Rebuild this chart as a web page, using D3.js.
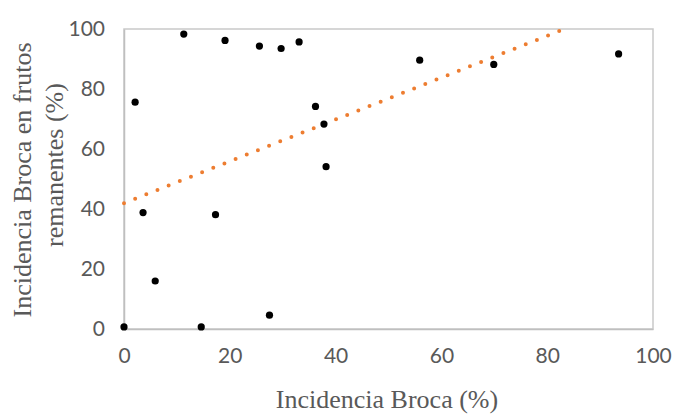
<!DOCTYPE html>
<html>
<head>
<meta charset="utf-8">
<script src="https://cdn.jsdelivr.net/npm/d3@7"></script>
<style>
  body { margin: 0; background: #fff; }
  .tick text { font-family: Lato, "Open Sans", sans-serif; font-size: 21px; fill: #595959; }
  .title { font-family: "Liberation Serif", "Times New Roman", serif; font-size: 26px; fill: #595959; }
</style>
</head>
<body>
<div id="chart"></div>
<script>
var width = 675;
var height = 417;

var margin = { top: 29, right: 22, bottom: 88, left: 124 };

// Incidencia Broca (%) vs incidencia en frutos remanentes (%)
var incidencia = [2.1, 11.3, 19.1, 25.6, 29.7, 33.1, 36.2, 37.8, 38.2, 55.9, 69.9, 93.5, 3.6, 17.3, 5.9, 0, 14.6, 27.5];
var remanentes = [75.6, 98.3, 96.2, 94.3, 93.5, 95.7, 74.2, 68.3, 54.1, 89.6, 88.2, 91.7, 38.8, 38.1, 16, 0.7, 0.7, 4.6];

var xTicks = [0, 20, 40, 60, 80, 100];
var yTicks = [0, 20, 40, 60, 80, 100];

var svg = d3.select('#chart').append('svg').attr('width', width).attr('height', height);

var x = d3.scaleLinear().domain([0, 100]).range([margin.left, width - margin.right]);
var y = d3.scaleLinear().domain([0, 100]).range([height - margin.bottom, margin.top]);

// plot frame
svg.append('rect')
  .attr('x', x(0)).attr('y', y(100))
  .attr('width', x(100) - x(0)).attr('height', y(0) - y(100))
  .attr('fill', 'none').attr('stroke', '#c9c9c9').attr('stroke-width', 1.5);

var xAxis = svg.append('g')
  .attr('transform', 'translate(0,' + y(0) + ')')
  .call(d3.axisBottom(x).tickValues(xTicks).tickSize(0).tickPadding(19));
xAxis.select('.domain').attr('stroke', '#bfbfbf').attr('stroke-width', 1.5);

var yAxis = svg.append('g')
  .attr('transform', 'translate(' + x(0) + ',0)')
  .call(d3.axisLeft(y).tickValues(yTicks).tickSize(0).tickPadding(19));
yAxis.select('.domain').attr('stroke', '#bfbfbf').attr('stroke-width', 1.5);

// linear trendline (least squares)
var n = incidencia.length;
var mx = d3.mean(incidencia), my = d3.mean(remanentes);
var sxy = 0, sxx = 0;
for (var i = 0; i < n; i++) {
  sxy += (incidencia[i] - mx) * (remanentes[i] - my);
  sxx += (incidencia[i] - mx) * (incidencia[i] - mx);
}
var slope = sxy / sxx;
var intercept = my - slope * mx;
var xEnd = Math.min(100, (100 - intercept) / slope);

svg.append('line')
  .attr('x1', x(0)).attr('y1', y(intercept))
  .attr('x2', x(xEnd)).attr('y2', y(intercept + slope * xEnd))
  .attr('stroke', '#ED7D31').attr('stroke-width', 4)
  .attr('stroke-linecap', 'round').attr('stroke-dasharray', '0 12');

// points
svg.selectAll('circle.pt').data(incidencia).enter().append('circle')
  .attr('class', 'pt')
  .attr('cx', function(d) { return x(d); })
  .attr('cy', function(d, i) { return y(remanentes[i]); })
  .attr('r', 3.6)
  .attr('fill', '#000');

// titles
svg.append('text').attr('class', 'title')
  .attr('x', 387).attr('y', 408)
  .attr('text-anchor', 'middle')
  .text('Incidencia Broca (%)');

svg.append('text').attr('class', 'title')
  .attr('transform', 'translate(31,180) rotate(-90)')
  .attr('text-anchor', 'middle')
  .text('Incidencia Broca en frutos');

svg.append('text').attr('class', 'title')
  .attr('transform', 'translate(63,165) rotate(-90)')
  .attr('text-anchor', 'middle')
  .text('remanentes (%)');
</script>
</body>
</html>
